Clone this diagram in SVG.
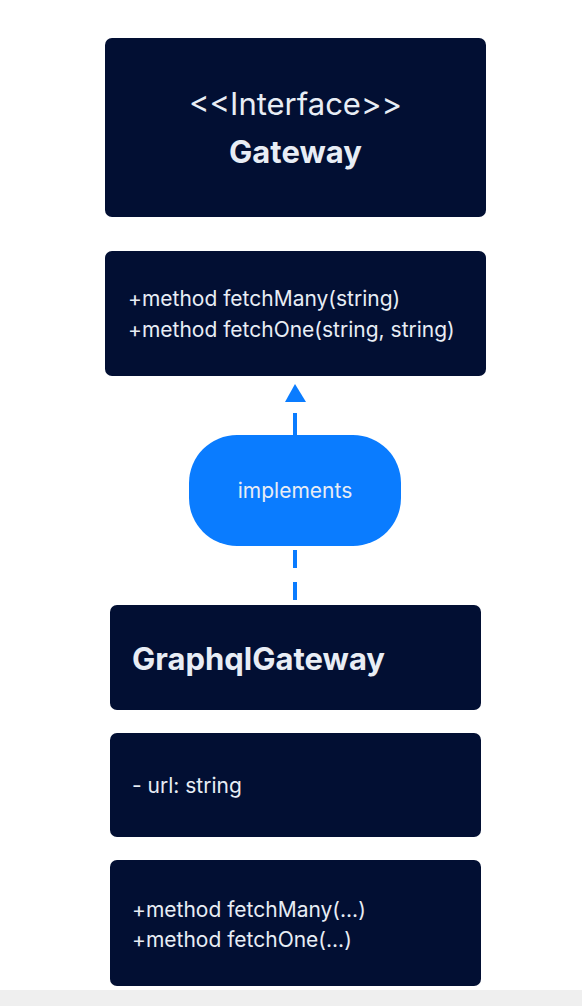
<svg xmlns="http://www.w3.org/2000/svg" width="582" height="1006" viewBox="0 0 582 1006">
<style>
.box{fill:#020f33;}
.t{font-family:Inter,"Liberation Sans",sans-serif;fill:#e8edf5;}
.m{font-size:21px;}
.b{font-weight:700;font-size:31px;}
.conn{stroke:#0a7cff;stroke-width:4;fill:none;}
</style>
<rect x="0" y="0" width="582" height="1006" fill="#ffffff"/>
<rect x="0" y="990" width="582" height="16" fill="#efefef"/>
<g id="gateway-header">
<rect class="box" x="105" y="38" width="381" height="179" rx="7"/>
<text class="t" x="295.5" y="115" text-anchor="middle" font-size="31">&lt;&lt;Interface&gt;&gt;</text>
<text class="t b" x="295.5" y="163" text-anchor="middle">Gateway</text>
</g>
<g id="gateway-methods">
<rect class="box" x="105" y="251" width="381" height="125" rx="7"/>
<text class="t m" x="128" y="306">+method fetchMany(string)</text>
<text class="t m" x="128" y="337">+method fetchOne(string, string)</text>
</g>
<g id="connectors">
<line class="conn" x1="295" y1="413" x2="295" y2="435"/>
<polygon points="295,384 285,402 306,402" fill="#0a7cff"/>
<line class="conn" x1="295" y1="550" x2="295" y2="600" stroke-dasharray="18 14"/>
</g>
<g id="implements">
<rect x="189" y="435" width="212" height="111" rx="48" fill="#0a7cff"/>
<text class="t m" x="295" y="498" text-anchor="middle" fill="#e8f0ff">implements</text>
</g>
<g id="graphql-header">
<rect class="box" x="110" y="605" width="371" height="105" rx="7"/>
<text class="t b" x="132" y="670">GraphqlGateway</text>
</g>
<g id="graphql-fields">
<rect class="box" x="110" y="733" width="371" height="104" rx="7"/>
<text class="t m" x="132" y="793">- url: string</text>
</g>
<g id="graphql-methods">
<rect class="box" x="110" y="860" width="371" height="126" rx="7"/>
<text class="t m" x="132" y="917">+method fetchMany(...)</text>
<text class="t m" x="132" y="947">+method fetchOne(...)</text>
</g>
</svg>
